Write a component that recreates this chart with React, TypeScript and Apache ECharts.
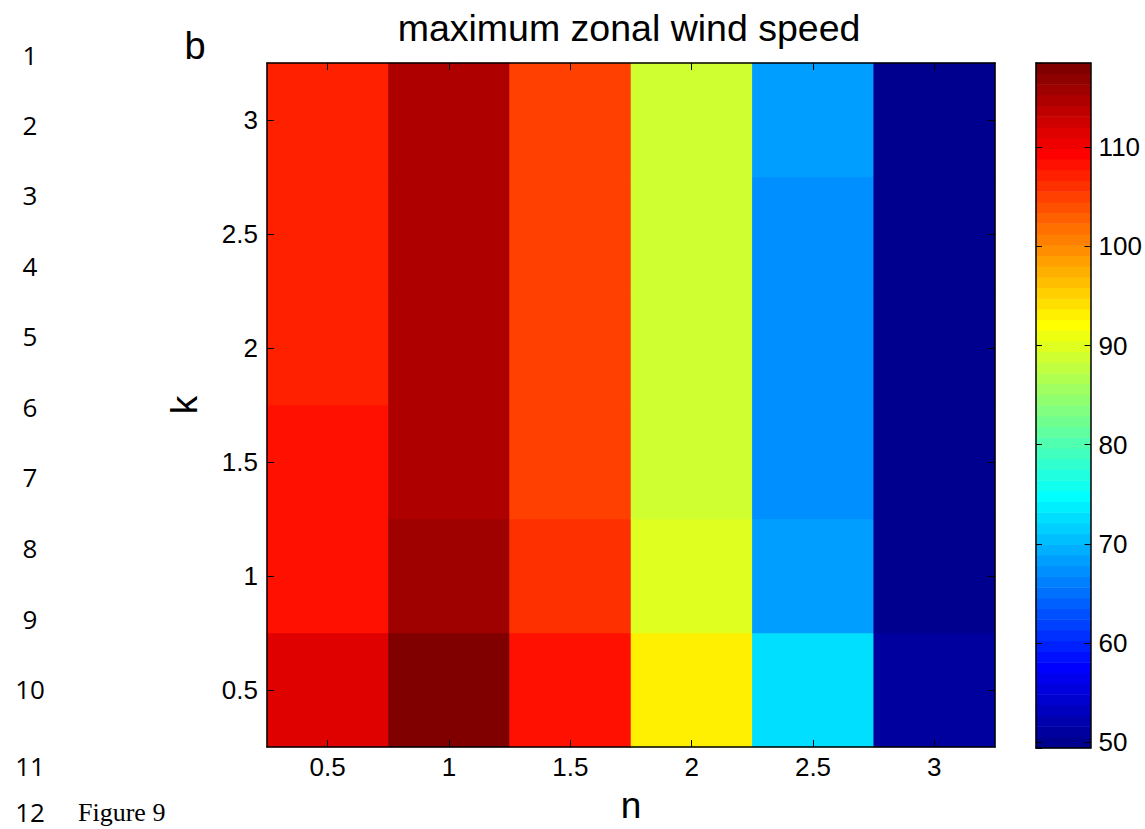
import React, { useEffect, useRef } from "react";
import * as echarts from "echarts";

// n (x) and k (y) categories
const nLabels = ["0.5", "1", "1.5", "2", "2.5", "3"];
const kLabels = ["0.5", "1", "1.5", "2", "2.5", "3"];

// maximum zonal wind speed, one array per n column, k = 0.5 .. 3
const windN05 = [111.8, 108.6, 108.6, 107.5, 107.5, 107.5];
const windN10 = [118.5, 116.2, 115.1, 115.1, 115.1, 115.1];
const windN15 = [108.6, 106.4, 105.3, 105.3, 105.3, 105.3];
const windN20 = [93.1, 89.9, 88.8, 88.8, 88.8, 88.8];
const windN25 = [72.6, 68.3, 67.2, 67.2, 67.2, 68.3];
const windN30 = [51.0, 49.9, 49.7, 49.6, 49.5, 49.4];

// colour scale
const cMin = 49.4;
const cMax = 118.5;
const nColors = 64;

// document line numbers on the left margin
const lineNumbers = ["1", "2", "3", "4", "5", "6", "7", "8", "9", "10", "11"];
const lineNumberY = [55, 125, 195, 266, 336, 407, 477, 548, 619, 689, 766];

function jet(i: number): string {
  // MATLAB jet(64), i = 1..64
  let r = 0, g = 0, b = 0;
  if (i <= 8) { b = 0.5 + i / 16; }
  else if (i <= 24) { g = (i - 8) / 16; b = 1; }
  else if (i <= 40) { r = (i - 24) / 16; g = 1; b = 1 - (i - 24) / 16; }
  else if (i <= 56) { r = 1; g = 1 - (i - 40) / 16; }
  else { r = 1 - (i - 56) / 16; }
  const h = (v: number) => Math.round(Math.max(0, Math.min(1, v)) * 255);
  return `rgb(${h(r)},${h(g)},${h(b)})`;
}

const FONT = "'Liberation Sans', Arial, Helvetica, sans-serif";
const NUMFONT = "'Open Sans', 'Noto Sans', sans-serif";

export default function App() {
  const ref = useRef<HTMLDivElement>(null);
  useEffect(() => {
    const chart = echarts.init(ref.current!, null, { renderer: "svg" });
    const columns = [windN05, windN10, windN15, windN20, windN25, windN30];
    const data: number[][] = [];
    columns.forEach((col, ci) => col.forEach((v, ki) => data.push([ci, ki, v])));

    const bin = (cMax - cMin) / nColors;
    const pieces: any[] = [];
    const barCats: string[] = [];
    const barData: number[][] = [];
    for (let j = 0; j < nColors; j++) {
      const lo = cMin + j * bin;
      const hi = cMin + (j + 1) * bin;
      const p: any = { color: jet(j + 1) };
      if (j > 0) p.gte = lo;
      if (j < nColors - 1) p.lt = hi;
      pieces.push(p);
      barCats.push(String(j));
      barData.push([0, j, lo + bin / 2]);
    }

    const axisLineStyle = { color: "#000", width: 1.5 };
    const tickStyle = { color: "#000", width: 1 };
    const labelStyle = { color: "#000", fontSize: 26, fontFamily: FONT };

    const graphics: any[] = [
      {
        type: "text", x: 629, y: 28, z: 10,
        style: { text: "maximum zonal wind speed", fontSize: 37.5, fontFamily: FONT, fill: "#000", textAlign: "center", textVerticalAlign: "middle" },
      },
      {
        type: "text", x: 195, y: 46, z: 10,
        style: { text: "b", fontSize: 38, fontFamily: FONT, fill: "#000", textAlign: "center", textVerticalAlign: "middle" },
      },
      {
        type: "text", x: 30, y: 812, z: 10,
        style: { text: "12", fontSize: 26, fontFamily: NUMFONT, fill: "#000", textAlign: "center", textVerticalAlign: "middle" },
      },
      {
        type: "text", x: 78, y: 812, z: 10,
        style: { text: "Figure 9", fontSize: 26, fontFamily: "'Liberation Serif', 'Times New Roman', serif", fill: "#000", textAlign: "left", textVerticalAlign: "middle" },
      },
    ];
    lineNumbers.forEach((t, i) => {
      graphics.push({
        type: "text", x: 30, y: lineNumberY[i], z: 10,
        style: { text: t, fontSize: 26, fontFamily: NUMFONT, fill: "#000", textAlign: "center", textVerticalAlign: "middle" },
      });
    });

    const option: any = {
      animation: false,
      backgroundColor: "#fff",
      grid: [
        { left: 267, top: 63, width: 728, height: 685 },
        { left: 1036, top: 63, width: 56, height: 685 },
      ],
      xAxis: [
        {
          type: "category", gridIndex: 0, data: nLabels, position: "bottom", z: 5,
          name: "n", nameLocation: "middle", nameGap: 40,
          nameTextStyle: { fontSize: 37, fontFamily: FONT, color: "#000" },
          axisLine: { show: true, lineStyle: axisLineStyle },
          axisTick: { show: true, inside: true, alignWithLabel: true, length: 7, lineStyle: tickStyle },
          axisLabel: { ...labelStyle, margin: 7 },
          splitLine: { show: false },
        },
        {
          type: "category", gridIndex: 0, data: nLabels, position: "top", z: 5,
          axisLine: { show: true, lineStyle: axisLineStyle },
          axisTick: { show: true, inside: true, alignWithLabel: true, length: 7, lineStyle: tickStyle },
          axisLabel: { show: false },
          splitLine: { show: false },
        },
        {
          type: "category", gridIndex: 1, data: ["cb"], position: "bottom", z: 5,
          axisLine: { show: true, lineStyle: axisLineStyle },
          axisTick: { show: false }, axisLabel: { show: false }, splitLine: { show: false },
        },
        {
          type: "category", gridIndex: 1, data: ["cb"], position: "top", z: 5,
          axisLine: { show: true, lineStyle: axisLineStyle },
          axisTick: { show: false }, axisLabel: { show: false }, splitLine: { show: false },
        },
      ],
      yAxis: [
        {
          type: "category", gridIndex: 0, data: kLabels, position: "left", z: 5,
          name: "k", nameLocation: "middle", nameGap: 64, nameRotate: 90,
          nameTextStyle: { fontSize: 37, fontFamily: FONT, color: "#000" },
          axisLine: { show: true, lineStyle: axisLineStyle },
          axisTick: { show: true, inside: true, alignWithLabel: true, length: 7, lineStyle: tickStyle },
          axisLabel: { ...labelStyle, margin: 9 },
          splitLine: { show: false },
        },
        {
          type: "category", gridIndex: 0, data: kLabels, position: "right", z: 5,
          axisLine: { show: true, lineStyle: axisLineStyle },
          axisTick: { show: true, inside: true, alignWithLabel: true, length: 7, lineStyle: tickStyle },
          axisLabel: { show: false },
          splitLine: { show: false },
        },
        {
          type: "category", gridIndex: 1, data: barCats, position: "left", show: false,
        },
        {
          type: "value", gridIndex: 1, position: "right", min: cMin, max: cMax, splitNumber: 7, z: 5,
          axisLine: { show: true, lineStyle: axisLineStyle },
          axisTick: { show: true, inside: true, length: 6, lineStyle: tickStyle },
          axisLabel: { ...labelStyle, margin: 8, showMinLabel: false, showMaxLabel: false },
          splitLine: { show: false },
        },
        {
          type: "value", gridIndex: 1, position: "left", min: cMin, max: cMax, splitNumber: 7, z: 5,
          axisLine: { show: true, lineStyle: axisLineStyle },
          axisTick: { show: true, inside: true, length: 6, lineStyle: tickStyle },
          axisLabel: { show: false },
          splitLine: { show: false },
        },
      ],
      visualMap: {
        type: "piecewise", show: false, dimension: 2, seriesIndex: [0, 1], pieces,
      },
      series: [
        {
          type: "heatmap", xAxisIndex: 0, yAxisIndex: 0, data,
          emphasis: { disabled: true }, z: 1,
        },
        {
          type: "heatmap", xAxisIndex: 2, yAxisIndex: 2, data: barData,
          emphasis: { disabled: true }, z: 1,
        },
      ],
      graphic: graphics,
    };
    chart.setOption(option);
    return () => chart.dispose();
  }, []);
  return (
    <div
      ref={ref}
      style={{ position: "fixed", left: 0, top: 0, width: 1145, height: 829, background: "#fff" }}
    />
  );
}
